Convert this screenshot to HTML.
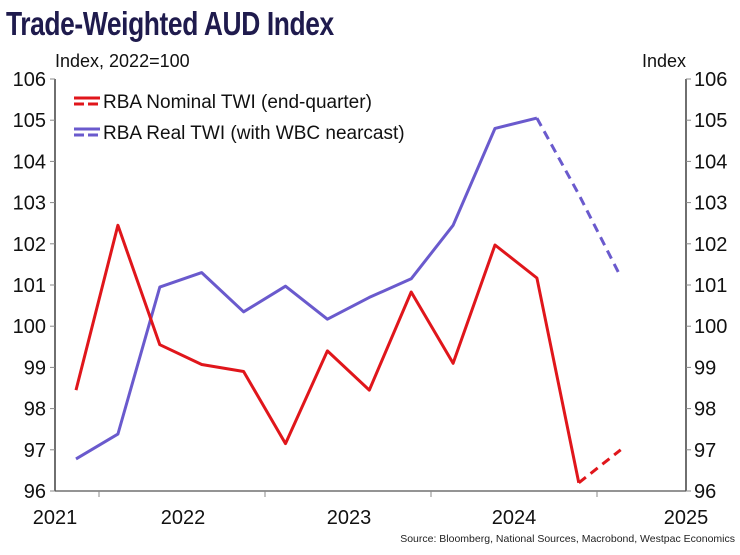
<!DOCTYPE html>
<html><head><meta charset="utf-8"><style>
body{margin:0;background:#fff;}
#wrap{position:relative;width:740px;height:555px;overflow:hidden;font-family:"Liberation Sans",sans-serif;}
#title{position:absolute;left:6px;top:5px;font-size:33px;font-weight:bold;color:#1f1b4d;transform:scaleX(0.8);transform-origin:left top;white-space:nowrap;letter-spacing:-0.5px;}
</style></head><body>
<div id="wrap">
<div id="title">Trade-Weighted AUD Index</div>
<svg id="svg" width="740" height="555" style="position:absolute;left:0;top:0"></svg>
</div>
<script>
const yTicks=[96,97,98,99,100,101,102,103,104,105,106];
const yearLabels=["2021","2022","2023","2024","2025"];
const nominalActual=[98.45,102.45,99.55,99.07,98.9,97.15,99.4,98.45,100.83,99.1,101.97,101.17,96.2];
const nominalForecast=[96.2,97.0];
const realActual=[96.78,97.38,100.95,101.3,100.35,100.97,100.17,100.7,101.15,102.45,104.8,105.05];
const realForecast=[105.05,103.2,101.2];

const L=55,R=686,T=79,B=491;
const y=v=>B-(v-96)/(106-96)*(B-T);
const x=q=>76+41.9*q;
const svg=document.getElementById('svg');
const NS='http://www.w3.org/2000/svg';
function mk(t,a,txt){const e=document.createElementNS(NS,t);for(const k in a)e.setAttribute(k,a[k]);if(txt!==undefined)e.textContent=txt;svg.appendChild(e);return e;}
let e=mk('line',{x1:L,y1:T,x2:L,y2:B,stroke:'#222','stroke-width':1.3});

e=mk('line',{x1:R,y1:T,x2:R,y2:B,stroke:'#222','stroke-width':1.3});

e=mk('line',{x1:L,y1:B,x2:R,y2:B,stroke:'#555','stroke-width':1.3});

yTicks.forEach(v=>{
  let t=mk('line',{x1:L-5,y1:y(v),x2:L,y2:y(v),stroke:'#888'});
  
  t=mk('line',{x1:R,y1:y(v),x2:R+5,y2:y(v),stroke:'#888'});
  
  t=mk('text',{x:46,y:y(v)+7,'text-anchor':'end','font-size':20,fill:'#111'},v);
  
  t=mk('text',{x:694,y:y(v)+7,'font-size':20,fill:'#111'},v);
  
});
for(let k=0;k<4;k++){const tx=99+166*k;
  e=mk('line',{x1:tx,y1:B,x2:tx,y2:B+6,stroke:'#888'});
  }
const lx=[L,183,349,514,R];
yearLabels.forEach((s,i)=>{
  const t=mk('text',{x:lx[i],y:524,'text-anchor':'middle','font-size':20,fill:'#111'},s);
  
});
e=mk('text',{x:55,y:67,'font-size':18,fill:'#111'},'Index, 2022=100');

e=mk('text',{x:686,y:67,'text-anchor':'end','font-size':18,fill:'#111'},'Index');

e=mk('text',{x:735,y:542,'text-anchor':'end','font-size':10.5,fill:'#222'},'Source: Bloomberg, National Sources, Macrobond, Westpac Economics');


function line(vals,off,color,dash,name){
  const p=vals.map((v,i)=>x(i+off).toFixed(1)+','+y(v).toFixed(1)).join(' ');
  const a={points:p,fill:'none',stroke:color,'stroke-width':3,'stroke-linejoin':'round'};
  if(dash)a['stroke-dasharray']='9,6';
  const l=mk('polyline',a);
  
}
const RED='#e0161b',PUR='#6a5acd';
line(realActual,0,PUR,false,'real-twi-line');
line(realForecast,realActual.length-1,PUR,true,'real-twi-nearcast');
line(nominalActual,0,RED,false,'nominal-twi-line');
line(nominalForecast,nominalActual.length-1,RED,true,'nominal-twi-forecast');
function leg(yy,color,label,name){
  let a=mk('line',{x1:74,y1:yy-3,x2:100,y2:yy-3,stroke:color,'stroke-width':3});
  
  a=mk('line',{x1:74,y1:yy+3,x2:100,y2:yy+3,stroke:color,'stroke-width':3,'stroke-dasharray':'10,4'});
  
  a=mk('text',{x:103,y:yy+7,'font-size':19,fill:'#111'},label);
  
}
leg(101,RED,'RBA Nominal TWI (end-quarter)','legend-nominal');
leg(132,PUR,'RBA Real TWI (with WBC nearcast)','legend-real');
</script>
</body></html>
